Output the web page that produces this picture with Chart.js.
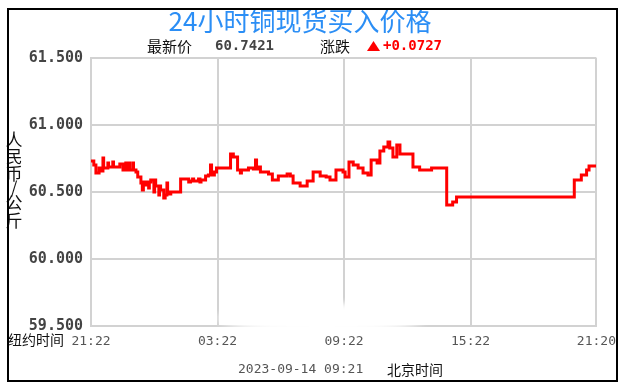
<!DOCTYPE html>
<html>
<head>
<meta charset="utf-8">
<script src="https://cdn.jsdelivr.net/npm/chart.js@4/dist/chart.umd.min.js"></script>
<style>
html,body{margin:0;padding:0;background:#fff;}
#wrap{position:relative;width:624px;height:390px;}
canvas{display:block;}
</style>
</head>
<body>
<div id="wrap"><canvas id="c" width="624" height="390"></canvas></div>
<script>
// minutes since 21:22 (New York time) and price (CNY/kg); each value holds until next point
const times = [0,8,14,23,28,34,36,48,50,62,64,82,91,99,101,108,110,119,121,128,133,142,146,149,156,158,164,166,170,179,181,184,193,195,198,207,211,216,218,221,227,255,278,283,289,292,306,310,313,326,334,340,343,351,357,397,405,417,425,428,448,462,468,471,476,482,505,516,533,558,567,575,595,615,632,652,669,680,697,717,723,734,746,760,774,788,797,814,822,833,845,850,859,870,879,916,935,969,1012,1029,1040,1375,1395,1410,1417,1437];
const prices = [60.731,60.701,60.642,60.679,60.657,60.754,60.679,60.716,60.687,60.724,60.687,60.709,60.664,60.716,60.664,60.716,60.664,60.716,60.664,60.649,60.612,60.567,60.515,60.575,60.552,60.575,60.530,60.575,60.590,60.500,60.590,60.545,60.478,60.545,60.515,60.455,60.478,60.567,60.500,60.485,60.500,60.597,60.575,60.582,60.597,60.582,60.597,60.575,60.590,60.619,60.627,60.701,60.627,60.649,60.679,60.784,60.761,60.664,60.642,60.664,60.679,60.672,60.739,60.672,60.687,60.649,60.634,60.590,60.619,60.634,60.619,60.567,60.545,60.582,60.649,60.619,60.612,60.590,60.664,60.649,60.612,60.724,60.701,60.679,60.642,60.627,60.739,60.716,60.806,60.836,60.873,60.828,60.761,60.851,60.784,60.687,60.664,60.679,60.403,60.425,60.463,60.590,60.627,60.664,60.694,60.694];
const xTickValues = [0,360,720,1080,1438];
const xTickLabels = ['21:22','03:22','09:22','15:22','21:20'];
const yTicks = [59.5,60.0,60.5,61.0,61.5];
const titleText = '24小时铜现货买入价格';
const latestLabel = '最新价';
const latestValue = '60.7421';
const changeLabel = '涨跌';
const changeValue = '+0.0727';
const yTitleChars = ['人','民','币','/','公','斤'];
const nyLabel = '纽约时间';
const dateText = '2023-09-14 09:21';
const bjLabel = '北京时间';

const cjk = '"Noto Sans CJK SC", sans-serif';
const mono = '"DejaVu Sans Mono", "Liberation Mono", monospace';

const decor = {
  id: 'decor',
  beforeDraw(chart){
    const ctx = chart.ctx;
    ctx.save();
    ctx.fillStyle = '#fff';
    ctx.fillRect(0,0,chart.width,chart.height);
    ctx.restore();
  },
  afterDraw(chart){
    const ctx = chart.ctx;
    ctx.save();
    // soft white smudge near bottom of the plot
    ctx.filter = 'blur(3px)';
    ctx.fillStyle = '#ffffff';
    ctx.beginPath();
    ctx.ellipse(322, 318, 104, 15, 0, 0, Math.PI*2);
    ctx.fill();
    ctx.filter = 'none';
    // title
    ctx.fillStyle = '#2b8ef5';
    ctx.font = '26px ' + cjk;
    ctx.textAlign = 'center';
    ctx.textBaseline = 'middle';
    ctx.fillText(titleText, 300, 21);
    // latest price line
    ctx.textAlign = 'left';
    ctx.fillStyle = '#111';
    ctx.font = '15px ' + cjk;
    ctx.fillText(latestLabel, 147, 46);
    ctx.fillText(changeLabel, 320, 46);
    ctx.fillStyle = '#444';
    ctx.font = 'bold 14px ' + mono;
    ctx.fillText(latestValue, 215, 46);
    ctx.fillStyle = '#ff0000';
    ctx.fillText(changeValue, 383, 46);
    ctx.beginPath();
    ctx.moveTo(367, 51); ctx.lineTo(380, 51); ctx.lineTo(373.5, 41); ctx.closePath();
    ctx.fill();
    // y title stacked chars
    ctx.fillStyle = '#111';
    ctx.font = '17px ' + cjk;
    ctx.textAlign = 'center';
    const ys = [140,157,174,188,203,221];
    yTitleChars.forEach((ch,i)=>ctx.fillText(ch, 14, ys[i]));
    // bottom labels
    ctx.textAlign = 'left';
    ctx.font = '14px ' + cjk;
    ctx.fillText(nyLabel, 8, 340);
    ctx.fillText(bjLabel, 387, 370);
    ctx.fillStyle = '#555';
    ctx.font = '13px ' + mono;
    ctx.fillText(dateText, 238, 370);
    // outer frame
    ctx.strokeStyle = '#000';
    ctx.lineWidth = 2;
    ctx.strokeRect(8, 9, 609, 372);
    ctx.restore();
  }
};

new Chart(document.getElementById('c'), {
  type: 'line',
  data: {
    datasets: [{
      data: times.map((t,i)=>({x:t, y:prices[i]})),
      borderColor: '#ff0000',
      borderWidth: 3,
      pointRadius: 0,
      stepped: true,
      fill: false,
      tension: 0
    }]
  },
  options: {
    responsive: false,
    animation: false,
    events: [],
    layout: { padding: { left: 0, right: 26, top: 58, bottom: 0 } },
    plugins: { legend: {display:false}, tooltip: {enabled:false}, title:{display:false} },
    scales: {
      x: {
        type: 'linear',
        min: 0, max: 1438,
        afterBuildTicks(scale){ scale.ticks = xTickValues.map(v=>({value:v})); },
        afterFit(scale){ scale.height = 64; },
        grid: { color: '#d2d2d2', lineWidth: 2, drawTicks: false },
        border: { color: '#d2d2d2', width: 2 },
        ticks: {
          maxRotation: 0, autoSkip: false, padding: 8,
          color: '#555',
          font: { family: mono, size: 13 },
          callback(v){ const i = xTickValues.indexOf(v); return i>=0 ? xTickLabels[i] : ''; }
        }
      },
      y: {
        min: 59.5, max: 61.5,
        afterBuildTicks(scale){ scale.ticks = yTicks.map(v=>({value:v})); },
        afterFit(scale){ scale.width = 91; },
        grid: { color: '#d2d2d2', lineWidth: 2, drawTicks: false },
        border: { color: '#d2d2d2', width: 2 },
        ticks: {
          padding: 8,
          color: '#444',
          font: { family: mono, size: 15, weight: 'bold' },
          callback(v){ return Number(v).toFixed(3); }
        }
      }
    }
  },
  plugins: [decor]
});
</script>
</body>
</html>
